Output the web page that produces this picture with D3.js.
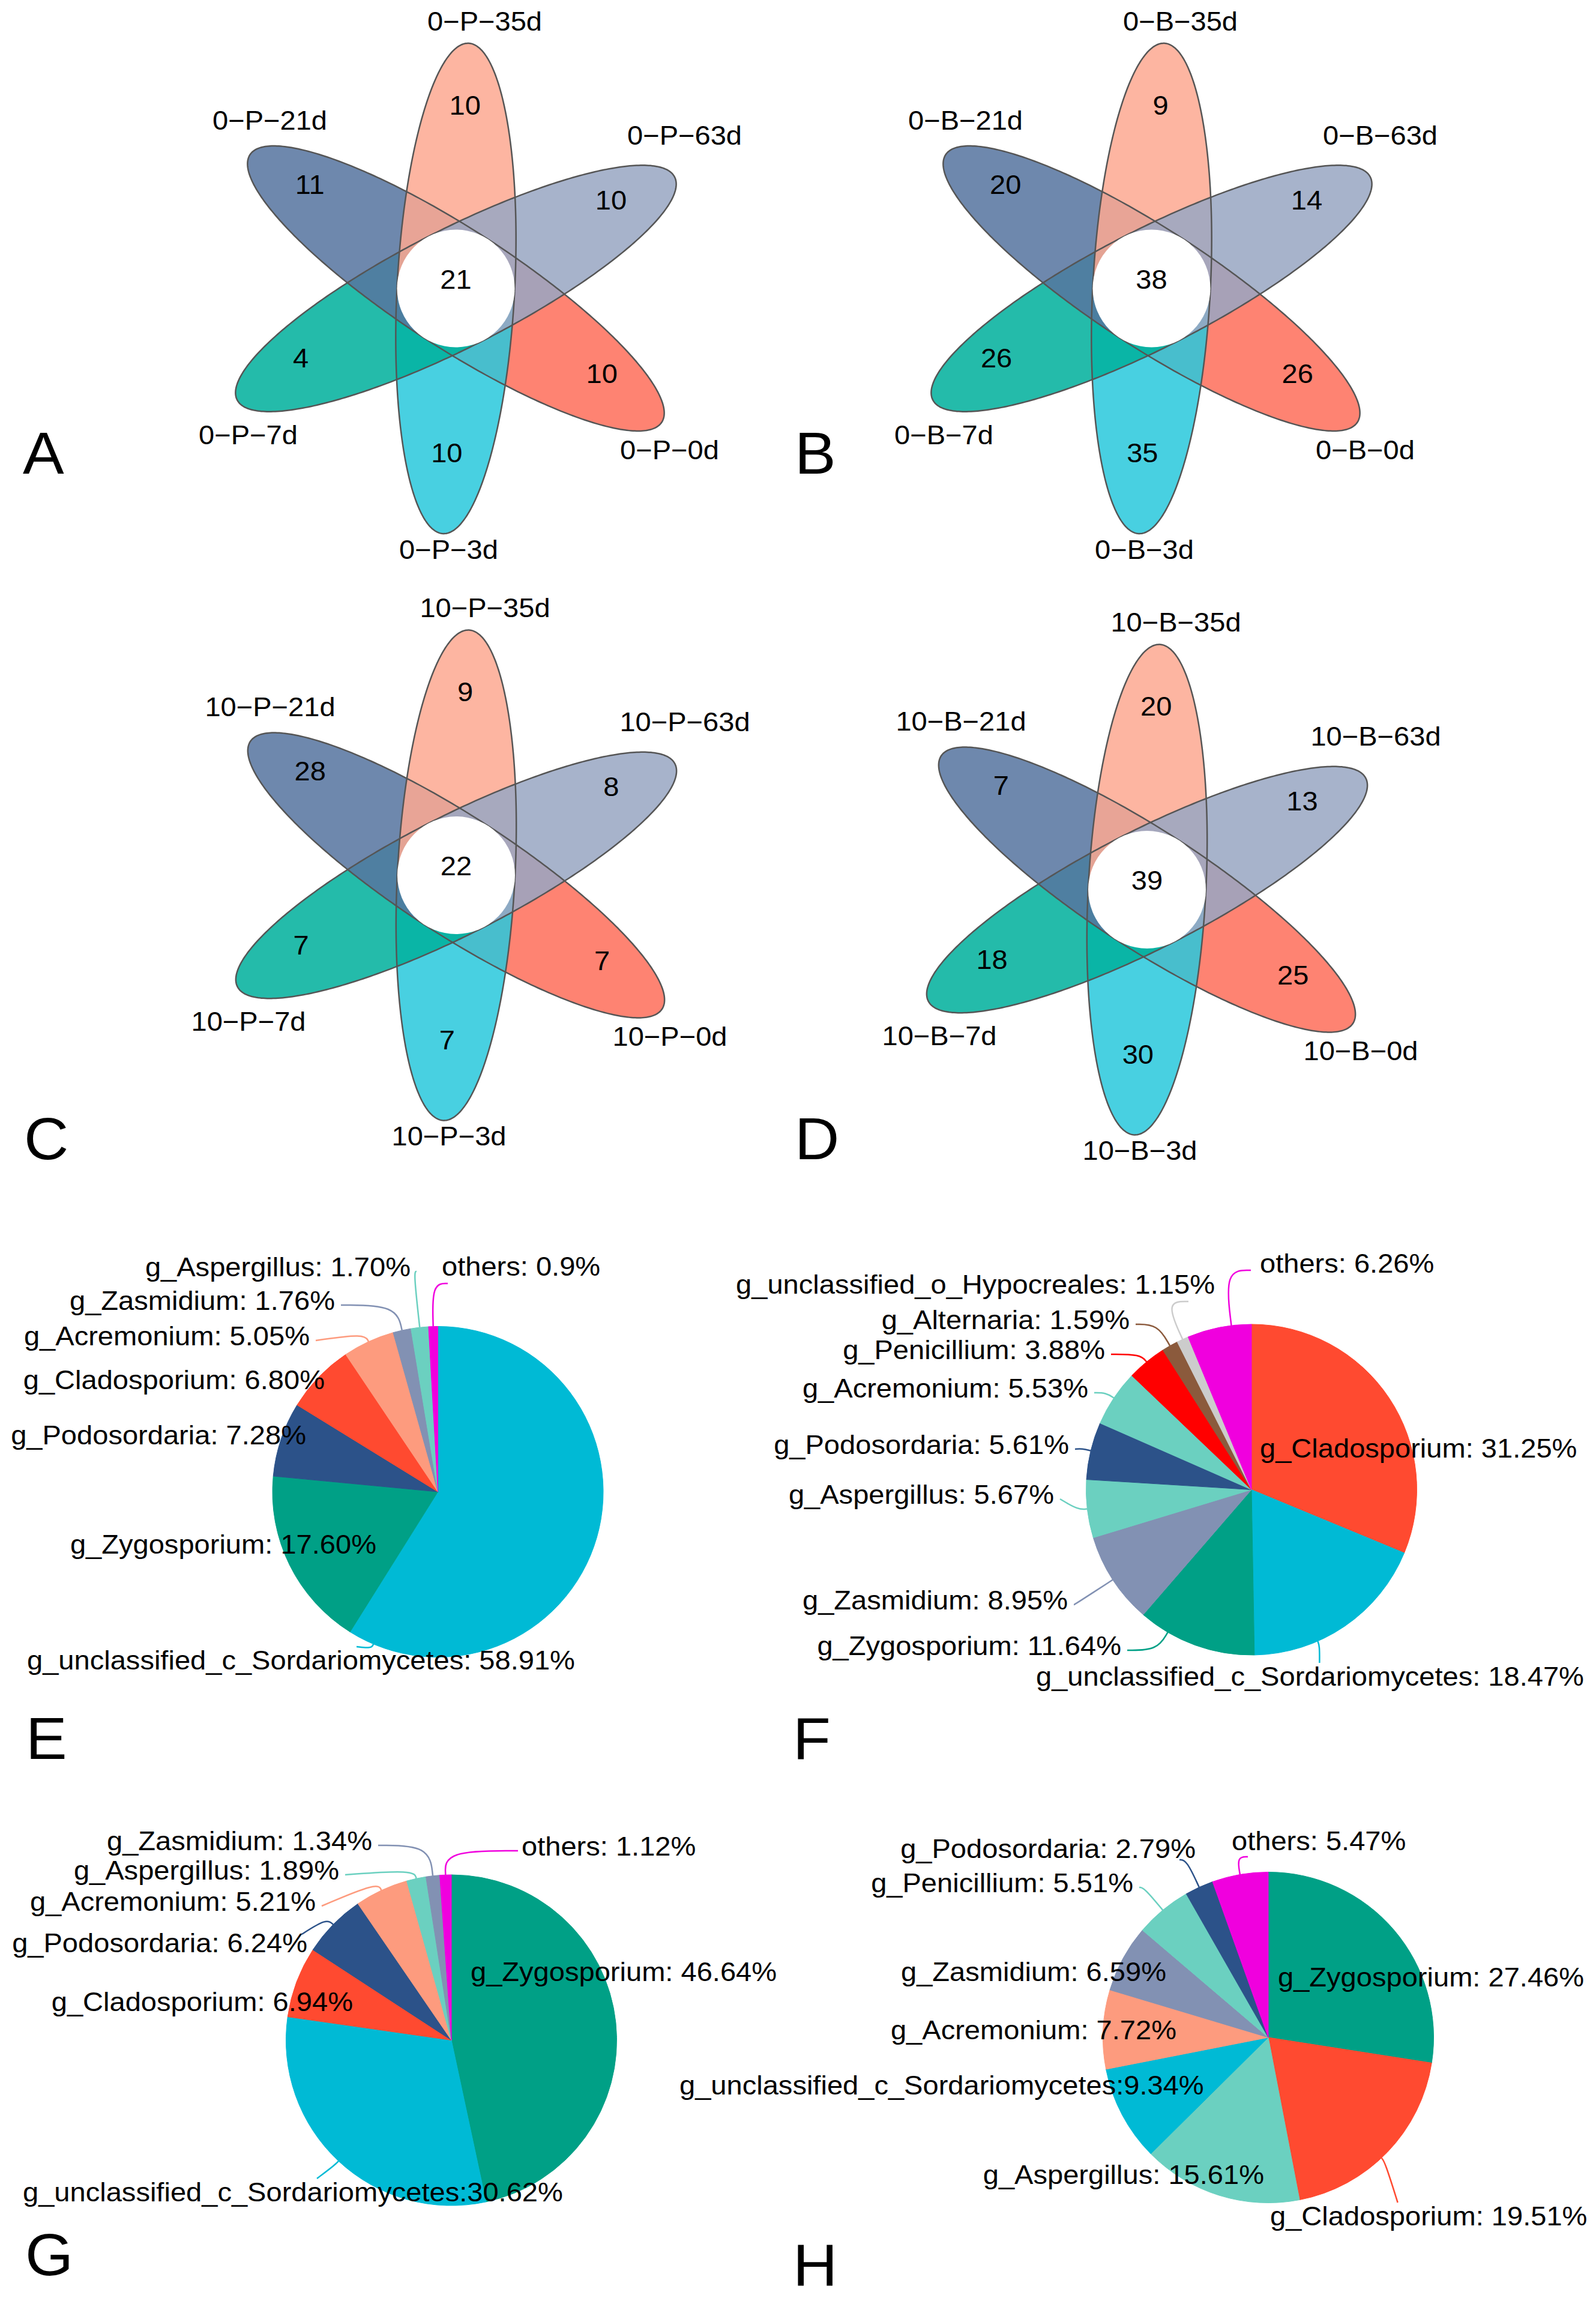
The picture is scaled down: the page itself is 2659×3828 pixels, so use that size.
<!DOCTYPE html>
<html>
<head>
<meta charset="utf-8">
<script src="https://cdn.jsdelivr.net/npm/d3@7"></script>
<style>
  body { margin: 0; background: #fff; }
  text { font-family: "Liberation Sans", Arial, sans-serif; fill: #000; }
</style>
</head>
<body>
<div id="chart"></div>
<script>
const width = 2659, height = 3828;

// ---------- flower diagrams (A-D): unique OTU counts per petal + shared core
const petalSets = ["0d", "3d", "7d", "21d", "35d", "63d"];
const petalA = [10, 10, 4, 11, 10, 10];
const petalB = [26, 35, 26, 20, 9, 14];
const petalC = [7, 7, 7, 28, 9, 8];
const petalD = [25, 30, 18, 7, 20, 13];
const coreCounts = [21, 38, 22, 39];
const groupNames = ["0−P−", "0−B−", "10−P−", "10−B−"];

// ---------- pie E
const pieEValues = [58.91, 17.60, 7.28, 6.80, 5.05, 1.76, 1.70, 0.9];
const pieELabels = ["g_unclassified_c_Sordariomycetes: 58.91%", "g_Zygosporium: 17.60%", "g_Podosordaria: 7.28%",
  "g_Cladosporium: 6.80%", "g_Acremonium: 5.05%", "g_Zasmidium: 1.76%", "g_Aspergillus: 1.70%", "others: 0.9%"];

// ---------- pie F
const pieFValues = [31.25, 18.47, 11.64, 8.95, 5.67, 5.61, 5.53, 3.88, 1.59, 1.15, 6.26];
const pieFLabels = ["g_Cladosporium: 31.25%", "g_unclassified_c_Sordariomycetes: 18.47%", "g_Zygosporium: 11.64%",
  "g_Zasmidium: 8.95%", "g_Aspergillus: 5.67%", "g_Podosordaria: 5.61%", "g_Acremonium: 5.53%", "g_Penicillium: 3.88%",
  "g_Alternaria: 1.59%", "g_unclassified_o_Hypocreales: 1.15%", "others: 6.26%"];

// ---------- pie G
const pieGValues = [46.64, 30.62, 6.94, 6.24, 5.21, 1.89, 1.34, 1.12];
const pieGLabels = ["g_Zygosporium: 46.64%", "g_unclassified_c_Sordariomycetes:30.62%", "g_Cladosporium: 6.94%",
  "g_Podosordaria: 6.24%", "g_Acremonium: 5.21%", "g_Aspergillus: 1.89%", "g_Zasmidium: 1.34%", "others: 1.12%"];

// ---------- pie H
const pieHValues = [27.46, 19.51, 15.61, 9.34, 7.72, 6.59, 5.51, 2.79, 5.47];
const pieHLabels = ["g_Zygosporium: 27.46%", "g_Cladosporium: 19.51%", "g_Aspergillus: 15.61%",
  "g_unclassified_c_Sordariomycetes:9.34%", "g_Acremonium: 7.72%", "g_Zasmidium: 6.59%", "g_Penicillium: 5.51%",
  "g_Podosordaria: 2.79%", "others: 5.47%"];

// ---------- colours
const cyan = "#00BAD5", green = "#00A086", navy = "#2C5289", orange = "#FF4A30", salmon = "#FD9B7E",
      slate = "#8291B3", mint = "#6BD0C0", magenta = "#F000DE", red = "#FF0000", brown = "#8B5A3C", grey = "#CCCCCC";
const pieEColors = [cyan, green, navy, orange, salmon, slate, mint, magenta];
const pieFColors = [orange, cyan, green, slate, mint, navy, mint, red, brown, grey, magenta];
const pieGColors = [green, cyan, orange, navy, salmon, mint, slate, magenta];
const pieHColors = [green, orange, mint, cyan, salmon, slate, mint, navy, magenta];
const petalFill = ["#FE6F5B", "#2AC8DC", "#00B09C", "#56759F", "#FDA991", "#99A7C3"];
const petalOpacity = 0.86;

// ---------- layout
const fontSize = 44, stretch = 1.07;
const petalAngles = [-33, -93, -153, 147, 87, 27];      // axis direction, degrees ccw
const petalLen = 409, petalWid = 98, numberDist = 290;
const petalLabelPos = [[356, 284], [-12, 450], [-346, 259], [-310, -265], [48, -430], [381, -240]];
const vennCenters = [[759.5, 480.5], [1918.5, 480.5], [760, 1458], [1911, 1482]];
const letters = [["A", 38, 789], ["B", 1324, 789], ["C", 40, 1931], ["D", 1324, 1931],
                 ["E", 43, 2930], ["F", 1321, 2930], ["G", 42, 3790], ["H", 1321, 3807]];
const pieR = 275.5;
// label: [x, baseline, anchor, line mode, position in slice, dx, dy]
const pieELayout = {cx: 729.5, cy: 2485, labels: [
  [45, 2781, "start", "t", 0.957, -28, 0], [627, 2588, "end"], [510, 2406, "end"], [541, 2314, "end"],
  [516, 2241, "end", "e"], [558, 2182, "end", "e"], [684, 2126, "end", "e"], [736, 2125, "start", "s", 0.5, 16, 21]]};
const pieFLayout = {cx: 2085, cy: 2481.5, labels: [
  [2099, 2428, "start"], [1726, 2808, "start", "t", 0.66, 3, 0], [1868, 2757, "end", "e", 0.75],
  [1779, 2681, "end", "e"], [1756, 2505, "end", "e"], [1781, 2422, "end", "e"], [1813, 2328, "end", "e"],
  [1841, 2264, "end", "e"], [1882, 2214, "end", "e"], [2024, 2155, "end", "e", 0.5, -54, 21],
  [2099, 2120, "start", "s", 0.69, -9, 4]]};
const pieGLayout = {cx: 752, cy: 3398.5, labels: [
  [784, 3300, "start"], [38, 3667, "start", "t", 0.5, -36, 0], [588, 3350, "end"],
  [512, 3252, "end", "e", 0.5, -19, -22], [526, 3183, "end", "e"], [565, 3131, "end", "e"],
  [620, 3082, "end", "e"], [869, 3091, "start", "s"]]};
const pieHLayout = {cx: 2113, cy: 3394, labels: [
  [2129, 3309, "start"], [2116, 3707, "start", "t", 0.54, 27, 0], [2106, 3638, "end"], [1132, 3489, "start"],
  [1960, 3397, "end"], [1943, 3300, "end"], [1888, 3152, "end", "e"], [1992, 3095, "end", "e", 0.5, -37, 11],
  [2052, 3082, "start", "s", 0.5, 33, 19]]};

const svg = d3.select("#chart").append("svg")
    .attr("width", width)
    .attr("height", height)
    .attr("viewBox", [0, 0, width, height])
    .style("background", "#fff");

function addText(g, x, y, txt, anchor, size, sx) {
    return g.append("text")
        .attr("transform", `translate(${x},${y}) scale(${sx || stretch},1)`)
        .attr("text-anchor", anchor || "middle")
        .attr("font-size", size || fontSize)
        .text(txt);
}

// half ellipse from the centre outwards along +x
const halfEllipse = d3.range(-90, 90.01, 1).map(t => {
    const r = t * Math.PI / 180;
    return [petalLen * Math.cos(r), petalWid * Math.sin(r)];
});
const petalLine = d3.line();

function drawFlower(i, counts) {
    const [cx, cy] = vennCenters[i];
    const g = svg.append("g").attr("transform", `translate(${cx},${cy})`);

    // fills first, outlines on top of every fill
    g.selectAll("path.fill").data(counts).join("path")
        .attr("class", "fill")
        .attr("transform", (d, k) => `rotate(${-petalAngles[k]})`)
        .attr("d", petalLine(halfEllipse) + "Z")
        .attr("fill", (d, k) => petalFill[k])
        .attr("fill-opacity", petalOpacity);
    g.selectAll("path.edge").data(counts).join("path")
        .attr("class", "edge")
        .attr("transform", (d, k) => `rotate(${-petalAngles[k]})`)
        .attr("d", petalLine(halfEllipse))
        .attr("fill", "none")
        .attr("stroke", "#555")
        .attr("stroke-width", 2.5);

    g.append("circle").attr("r", petalWid).attr("fill", "#fff");
    addText(g, 0, 0, coreCounts[i]);

    counts.forEach((n, k) => {
        const a = petalAngles[k] * Math.PI / 180;
        addText(g, numberDist * Math.cos(a), -numberDist * Math.sin(a), n);
        addText(g, petalLabelPos[k][0], petalLabelPos[k][1], groupNames[i] + petalSets[k]);
    });
}

drawFlower(0, petalA);
drawFlower(1, petalB);
drawFlower(2, petalC);
drawFlower(3, petalD);

const pie = d3.pie().sort(null).value(d => d);
const arc = d3.arc().innerRadius(0).outerRadius(pieR);
const leader = d3.line().curve(d3.curveBasis);

function drawPie(values, labels, colors, lay) {
    const arcs = pie(values);
    const g = svg.append("g");
    g.append("g").attr("transform", `translate(${lay.cx},${lay.cy})`)
        .selectAll("path").data(arcs).join("path")
        .attr("d", arc)
        .attr("fill", (d, i) => colors[i])
        .attr("stroke", (d, i) => colors[i])
        .attr("stroke-width", 1);

    arcs.forEach((a, i) => {
        const L = lay.labels[i], mode = L[3];
        if (!mode) return;
        const t = L[4] ?? 0.5, dx = L[5] || 0, dy = L[6] || 0;
        const ang = a.startAngle + t * (a.endAngle - a.startAngle);
        const ux = Math.sin(ang), uy = -Math.cos(ang);
        const p0 = [lay.cx + pieR * ux, lay.cy + pieR * uy];
        let p2;
        if (mode === "e") p2 = [L[0] + 10, L[1] - 8];
        else if (mode === "s") p2 = [L[0] - 6, L[1] - 8];
        else p2 = [p0[0], L[1] - 38];
        p2 = [p2[0] + dx, p2[1] + dy];
        let len = 8;
        if (mode !== "t") {
            len = Math.abs(uy) > 0.05 ? (p2[1] - p0[1]) / uy : 15;
            len = Math.max(15, Math.min(100, len));
        }
        const p1 = [p0[0] + ux * len, p0[1] + uy * len];
        g.append("path")
            .attr("d", leader([p0, p1, p2]))
            .attr("fill", "none")
            .attr("stroke", colors[i])
            .attr("stroke-width", 2.5);
    });

    labels.forEach((txt, i) => {
        const L = lay.labels[i];
        addText(g, L[0], L[1], txt, L[2]);
    });
}

drawPie(pieEValues, pieELabels, pieEColors, pieELayout);
drawPie(pieFValues, pieFLabels, pieFColors, pieFLayout);
drawPie(pieGValues, pieGLabels, pieGColors, pieGLayout);
drawPie(pieHValues, pieHLabels, pieHColors, pieHLayout);

letters.forEach(([s, x, y]) => addText(svg, x, y, s, "start", 98, 1.05));
</script>
</body>
</html>
